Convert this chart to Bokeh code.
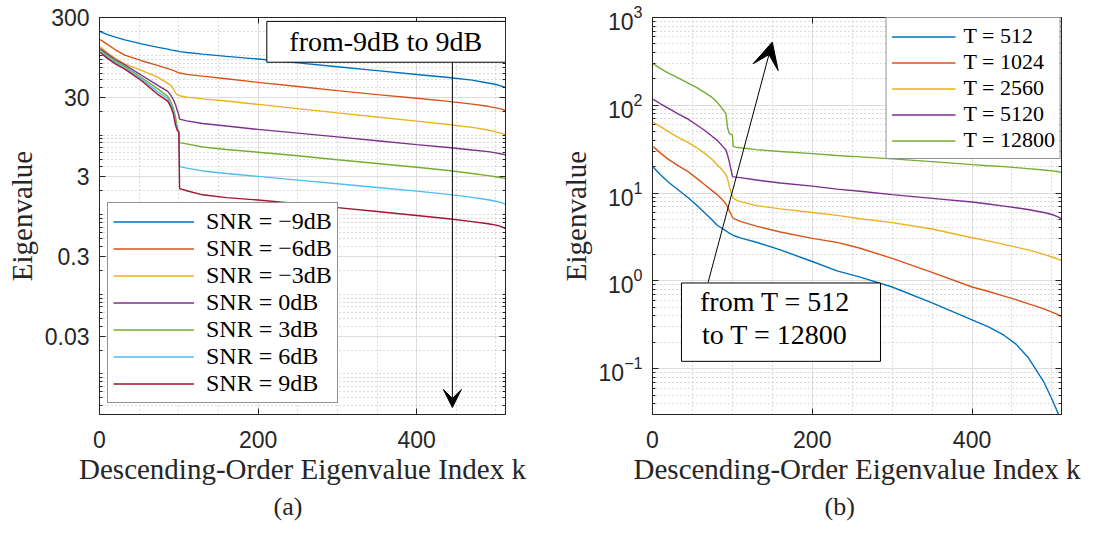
from bokeh.plotting import figure
from bokeh.layouts import row
from bokeh.models import (FixedTicker, SingleIntervalTicker, LogAxis, LinearAxis, Legend,
                          LegendItem, BoxAnnotation, Label, Arrow, VeeHead, Title, Range1d,
                          CustomJSTickFormatter)
from bokeh.embed import file_html
from bokeh.resources import INLINE

# ---------------- data, panel (a) ----------------
k_a = [1, 10, 20, 32, 53, 74, 86, 90, 93, 96, 98, 100, 101, 110, 130, 160, 200,
       250, 300, 350, 400, 440, 470, 490, 500, 507, 512]
snr_labels = ["SNR = \u22129dB", "SNR = \u22126dB", "SNR = \u22123dB", "SNR = 0dB",
              "SNR = 3dB", "SNR = 6dB", "SNR = 9dB"]
ev_snr_m9 = [199, 183, 170, 157, 140, 126.5, 120, 117.5, 116, 114.5, 113.5, 112.5, 112, 109, 104,
             97.5, 90.3, 80.8, 72.3, 64.6, 57.8, 52.9, 49, 45.2, 43.2, 41.2, 39.6]
ev_snr_m6 = [158, 138, 118, 101, 86, 74.5, 68.5, 66.5, 65, 63, 61.8, 60.8, 60.2, 58, 55,
             51, 46, 40.8, 36.2, 32.3, 29, 26.5, 24.5, 23, 22, 21.2, 20.4]
ev_snr_m3 = [129, 108, 92, 78.5, 65, 53, 44.7, 42, 38.5, 33.5, 32.2, 31.5, 31.2, 30, 28.5,
             26.8, 24.3, 21.5, 19, 16.9, 15, 13.6, 12.5, 11.6, 11.0, 10.5, 10.1]
ev_snr_0 = [122, 104, 89, 76.3, 56.5, 41.9, 35.4, 31.6, 28, 23.9, 20.5, 18, 15.9, 15.1, 14,
            13, 11.8, 10.6, 9.5, 8.5, 7.6, 7.0, 6.5, 6.2, 5.98, 5.8, 5.65]
ev_snr_3 = [117, 100, 85.5, 72.8, 52.9, 37.8, 30.7, 26.2, 22.1, 16.7, 12.6, 10.7, 8.04, 7.75, 7.1,
            6.6, 6.1, 5.5, 4.9, 4.4, 3.95, 3.6, 3.3, 3.1, 3.0, 2.92, 2.84]
ev_snr_6 = [113, 96, 82, 70.1, 50.5, 34.7, 28.8, 24.3, 20.2, 14.5, 12, 10.7, 4.02, 3.85, 3.55,
            3.3, 3.03, 2.72, 2.45, 2.2, 1.98, 1.8, 1.65, 1.54, 1.48, 1.42, 1.36]
ev_snr_9 = [109, 92, 78.5, 67.5, 48.2, 32.2, 26.7, 22.6, 18.7, 13.2, 11.5, 11.0, 2.13, 2.0, 1.78,
            1.64, 1.53, 1.38, 1.23, 1.1, 0.98, 0.89, 0.82, 0.77, 0.74, 0.71, 0.67]
series_a = [ev_snr_m9, ev_snr_m6, ev_snr_m3, ev_snr_0, ev_snr_3, ev_snr_6, ev_snr_9]
colors_a = ["#0072BD", "#D95319", "#EDB120", "#7E2F8E", "#77AC30", "#4DBEEE", "#A2142F"]
yticks_a = [0.03, 0.3, 3, 30, 300]
ytick_labels_a = ["0.03", "0.3", "3", "30", "300"]

# ---------------- data, panel (b) ----------------
k_b = [1, 10, 20, 32, 44, 55, 65, 75, 81, 88, 92, 94, 96, 98, 100, 101, 104, 110, 130, 160,
       200, 231, 260, 300, 350, 400, 420, 440, 455, 470, 490, 500, 507, 512]
t_labels = ["T = 512", "T = 1024", "T = 2560", "T = 5120", "T = 12800"]
ev_t512 = [19.7, 16.2, 13.3, 10.9, 8.95, 7.3, 6.0, 4.9, 4.3, 3.9, 3.7, 3.6, 3.5, 3.42, 3.33, 3.3,
           3.22, 3.08, 2.75, 2.25, 1.66, 1.3, 1.1, 0.85, 0.56, 0.36, 0.30, 0.24, 0.19, 0.135,
           0.07, 0.045, 0.032, 0.024]
ev_t1024 = [33.8, 28.5, 24.2, 20.5, 17.7, 14.8, 12.5, 10.6, 9.6, 8.3, 7.5, 6.9, 6.3, 5.8, 5.3,
            5.2, 5.0, 4.75, 4.2, 3.6, 3.05, 2.74, 2.35, 1.8, 1.25, 0.85, 0.76, 0.67, 0.61, 0.55,
            0.48, 0.44, 0.415, 0.39]
ev_t2560 = [64, 57, 50, 43, 38, 33, 28.5, 24, 21, 18, 16.3, 14.5, 12.1, 10.5, 9.1, 8.8, 8.4, 8.0,
            7.2, 6.6, 6.0, 5.57, 5.1, 4.6, 3.9, 3.1, 2.85, 2.6, 2.42, 2.25, 2.0, 1.87, 1.78, 1.7]
ev_t5120 = [117, 104, 92, 80, 70, 60, 52, 44, 40, 34, 31, 27, 23, 19, 15.6, 15.4, 15.2, 15.0,
            14.1, 13.0, 12.0, 11.1, 10.5, 9.6, 8.7, 7.9, 7.5, 7.1, 6.8, 6.5, 6.0, 5.7, 5.4, 5.1]
ev_t12800 = [296, 262, 232, 205, 180, 160, 140, 122, 108, 90, 79.8, 55, 48, 46.5, 45.6, 33.8,
             33.4, 32.8, 31.2, 29.7, 28.1, 26.8, 25.8, 24.5, 22.8, 21.1, 20.5, 20.0, 19.5, 19.0,
             18.3, 17.9, 17.6, 17.2]
series_b = [ev_t512, ev_t1024, ev_t2560, ev_t5120, ev_t12800]
colors_b = ["#0072BD", "#D95319", "#EDB120", "#7E2F8E", "#77AC30"]
yticks_b = [0.1, 1, 10, 100, 1000]

X_LABEL = "Descending-Order Eigenvalue Index k"
Y_LABEL = "Eigenvalue"

AX = "#262626"
SERIF = "Liberation Serif"
SANS = "Liberation Sans"
FRAME_H = 397


def minor_log_ticks(lo_exp, hi_exp):
    return [m * 10.0 ** e for e in range(lo_exp, hi_exp + 1) for m in range(1, 10)]


def style_axis(ax):
    ax.axis_line_color = AX
    ax.major_tick_line_color = AX
    ax.minor_tick_line_color = AX
    ax.major_tick_in = 6
    ax.major_tick_out = 0
    ax.minor_tick_out = 0
    ax.major_label_text_color = AX
    ax.major_label_text_font = SANS
    ax.major_label_text_font_size = "23px"


def blank_axis(ax):
    style_axis(ax)
    ax.formatter = CustomJSTickFormatter(code="return ''")
    ax.major_label_text_font_size = "2px"
    ax.major_label_standoff = 0


def make_panel(y_lo, y_hi, yticker, frame_w, min_left, min_right):
    p = figure(frame_width=frame_w, frame_height=FRAME_H, y_axis_type="log",
               x_range=Range1d(0, 512), y_range=Range1d(y_lo, y_hi),
               output_backend="svg", toolbar_location=None,
               min_border_left=min_left, min_border_right=min_right,
               min_border_top=17, min_border_bottom=106,
               background_fill_color="white", border_fill_color="white",
               outline_line_color=AX, outline_line_alpha=1.0)
    xticker = SingleIntervalTicker(interval=200, num_minor_ticks=4)
    p.xaxis.ticker = xticker
    p.yaxis.ticker = yticker
    for ax in (p.xaxis[0], p.yaxis[0]):
        style_axis(ax)
        ax.axis_label_text_font = SERIF
        ax.axis_label_text_font_size = "29px"
        ax.axis_label_text_font_style = "normal"
        ax.axis_label_text_color = AX
    p.xaxis.minor_tick_in = 0
    p.yaxis.minor_tick_in = 3
    p.xaxis.major_label_standoff = 16
    p.yaxis.major_label_standoff = 10
    p.xaxis.axis_label = X_LABEL
    p.yaxis.axis_label = Y_LABEL
    p.xaxis.axis_label_standoff = 2
    p.yaxis.axis_label_standoff = 4
    # box-style ticks on the opposite sides
    top = LinearAxis(ticker=xticker)
    blank_axis(top)
    top.minor_tick_in = 0
    p.add_layout(top, "above")
    right = LogAxis(ticker=yticker)
    blank_axis(right)
    right.minor_tick_in = 3
    p.add_layout(right, "right")
    # grids
    for g in (p.xgrid[0], p.ygrid[0]):
        g.grid_line_color = "#dedede"
        g.grid_line_width = 1
        g.minor_grid_line_color = "#b8b8b8"
        g.minor_grid_line_dash = "1 3"
        g.minor_grid_line_width = 1
    return p


# ---------------- panel (a) ----------------
yt_a = FixedTicker(ticks=yticks_a,
                   minor_ticks=[t for t in minor_log_ticks(-3, 2) if 0.0031 <= t <= 300])
pa = make_panel(0.0031, 300, yt_a, 406, 99, 42)
pa.yaxis[0].major_label_overrides = dict(zip(yticks_a, ytick_labels_a))

items_a = []
for vals, col, lab in zip(series_a, colors_a, snr_labels):
    r = pa.line(k_a, vals, line_color=col, line_width=1.4)
    items_a.append(LegendItem(label=lab, renderers=[r]))

leg_a = Legend(items=items_a, location=(8, 11), margin=0, padding=5, spacing=0,
               glyph_width=81, glyph_height=27, label_height=27, label_standoff=12,
               label_text_font=SERIF, label_text_font_size="24px", label_text_color="black",
               border_line_color=AX, border_line_width=1, background_fill_alpha=1.0)
pa.add_layout(leg_a)

# annotation: box + arrow
BOX_A = dict(left=211, right=512, bottom=82.3, top=268)
pa.add_layout(BoxAnnotation(**BOX_A, fill_color="white", fill_alpha=1.0,
                            line_color="black", line_width=1, line_alpha=1.0))
pa.add_layout(Label(x=361, y=148, text="from-9dB to 9dB", text_align="center",
                    text_baseline="middle", text_font=SERIF, text_font_size="28px",
                    text_color="black"))
pa.add_layout(Arrow(end=VeeHead(size=18, fill_color="black", line_color="black"),
                    x_start=445, y_start=82.3, x_end=445, y_end=0.0038,
                    line_color="black", line_width=1))
pa.add_layout(Title(text="(a)", align="left", offset=174, text_font=SERIF,
                    text_font_size="26px", text_font_style="normal", text_color=AX,
                    standoff=5), "below")

# ---------------- panel (b) ----------------
yt_b = FixedTicker(ticks=yticks_b,
                   minor_ticks=[t for t in minor_log_ticks(-2, 2) if 0.03 <= t <= 1000])
pb = make_panel(0.03, 1000, yt_b, 409, 105, 44)

items_b = []
for vals, col, lab in zip(series_b, colors_b, t_labels):
    r = pb.line(k_b, vals, line_color=col, line_width=1.4)
    items_b.append(LegendItem(label=lab, renderers=[r]))

leg_b = Legend(items=items_b, location="top_right", margin=0, padding=5, spacing=0,
               glyph_width=64, glyph_height=25, label_height=25, label_standoff=8,
               label_text_font=SERIF, label_text_font_size="22px", label_text_color="black",
               border_line_color=AX, border_line_width=1, background_fill_alpha=1.0)
pb.add_layout(leg_b)

BOX_B = dict(left=36.25, right=285.4, bottom=0.121, top=0.945)
pb.add_layout(BoxAnnotation(**BOX_B, fill_color="white", fill_alpha=1.0,
                            line_color="black", line_width=1, line_alpha=1.0))
pb.add_layout(Label(x=59.5, y=0.575, text="from  T = 512", text_align="left",
                    text_baseline="middle", text_font=SERIF, text_font_size="28px",
                    text_color="black"))
pb.add_layout(Label(x=62, y=0.246, text="to  T = 12800", text_align="left",
                    text_baseline="middle", text_font=SERIF, text_font_size="28px",
                    text_color="black"))
pb.add_layout(Arrow(end=VeeHead(size=26, fill_color="black", line_color="black"),
                    x_start=69.6, y_start=0.96, x_end=150, y_end=525,
                    line_color="black", line_width=1))
pb.add_layout(Title(text="(b)", align="left", offset=172, text_font=SERIF,
                    text_font_size="26px", text_font_style="normal", text_color=AX,
                    standoff=5), "below")

layout = row(pa, pb, spacing=0)
open("out.html", "w").write(file_html(layout, INLINE))
